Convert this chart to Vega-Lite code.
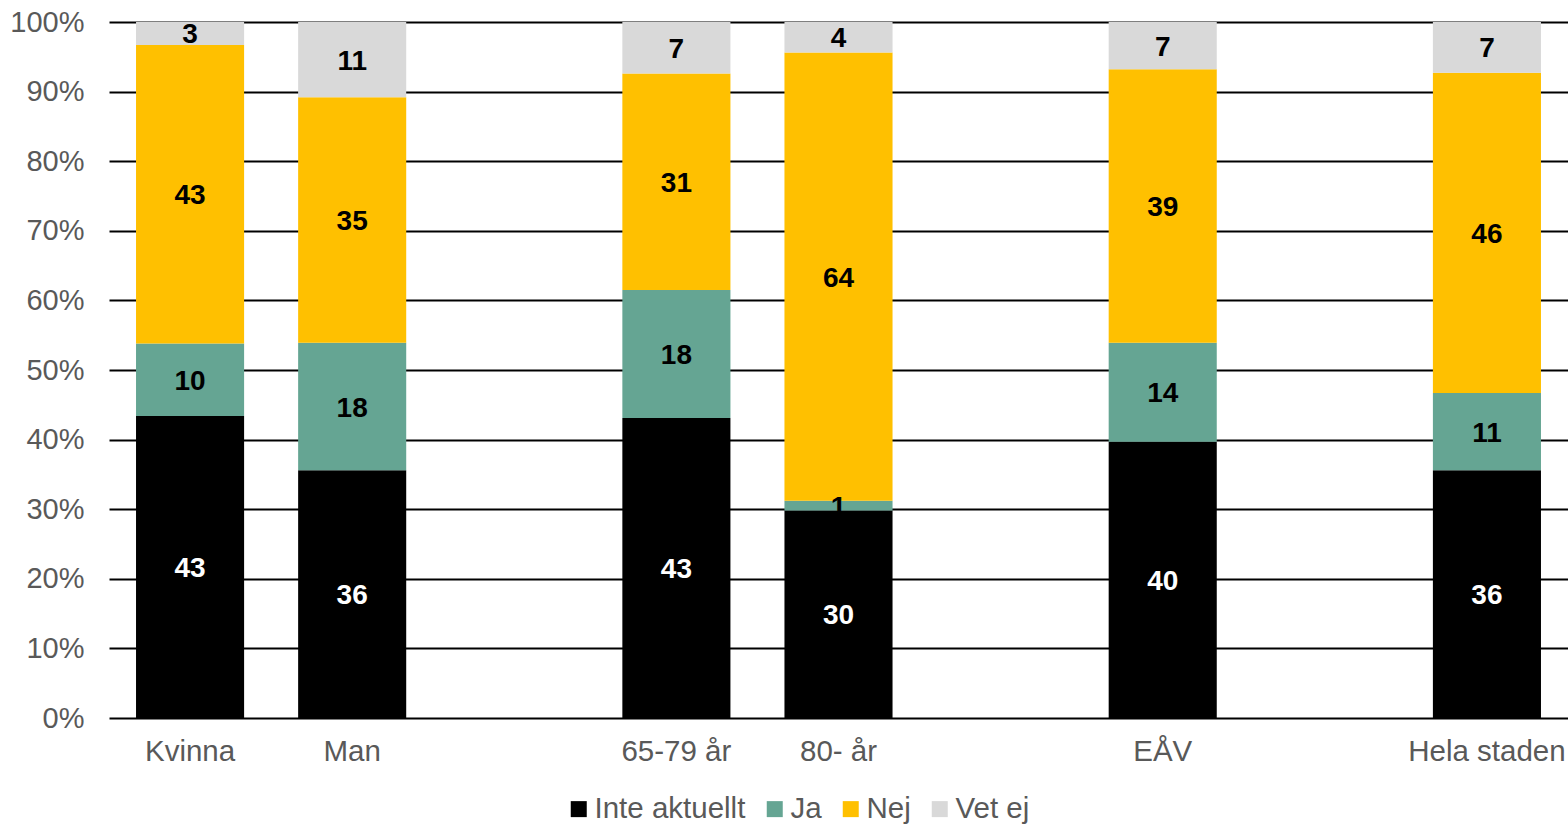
{
  "$schema": "https://vega.github.io/schema/vega-lite/v6.json",
  "autosize": {"type": "none"},
  "padding": {"left": 109, "top": 22, "right": 0, "bottom": 106},
  "width": 1459,
  "height": 696,
  "config": {
    "view": {"stroke": null},
    "font": "Liberation Sans"
  },
  "data": {
    "values": [
      {"cat": "Kvinna", "answer": "Inte aktuellt", "v": 43.4},
      {"cat": "Kvinna", "answer": "Ja", "v": 10.4},
      {"cat": "Kvinna", "answer": "Nej", "v": 42.9},
      {"cat": "Kvinna", "answer": "Vet ej", "v": 3.3},
      {"cat": "Man", "answer": "Inte aktuellt", "v": 35.6},
      {"cat": "Man", "answer": "Ja", "v": 18.3},
      {"cat": "Man", "answer": "Nej", "v": 35.3},
      {"cat": "Man", "answer": "Vet ej", "v": 10.8},
      {"cat": "65-79 år", "answer": "Inte aktuellt", "v": 43.1},
      {"cat": "65-79 år", "answer": "Ja", "v": 18.4},
      {"cat": "65-79 år", "answer": "Nej", "v": 31.1},
      {"cat": "65-79 år", "answer": "Vet ej", "v": 7.4},
      {"cat": "80- år", "answer": "Inte aktuellt", "v": 29.8},
      {"cat": "80- år", "answer": "Ja", "v": 1.4},
      {"cat": "80- år", "answer": "Nej", "v": 64.4},
      {"cat": "80- år", "answer": "Vet ej", "v": 4.4},
      {"cat": "EÅV", "answer": "Inte aktuellt", "v": 39.7},
      {"cat": "EÅV", "answer": "Ja", "v": 14.2},
      {"cat": "EÅV", "answer": "Nej", "v": 39.3},
      {"cat": "EÅV", "answer": "Vet ej", "v": 6.8},
      {"cat": "Hela staden", "answer": "Inte aktuellt", "v": 35.6},
      {"cat": "Hela staden", "answer": "Ja", "v": 11.1},
      {"cat": "Hela staden", "answer": "Nej", "v": 46.0},
      {"cat": "Hela staden", "answer": "Vet ej", "v": 7.3}
    ]
  },
  "transform": [
    {"stack": "v", "groupby": ["cat"], "sort": [{"field": "answer", "order": "ascending"}], "offset": "normalize", "as": ["y0", "y1"]}
  ],
  "encoding": {
    "x": {
      "field": "cat",
      "type": "nominal",
      "sort": null,
      "scale": {
        "domain": ["Kvinna", "Man", " ", "65-79 år", "80- år", "  ", "EÅV", "   ", "Hela staden"],
        "paddingInner": 0.3333,
        "paddingOuter": 0.1667
      },
      "axis": {
        "title": null,
        "labelAngle": 0,
        "ticks": false,
        "domain": false,
        "labelFontSize": 29.5,
        "labelColor": "#595959",
        "labelPadding": 19,
        "labelFont": "Liberation Sans"
      }
    }
  },
  "layer": [
    {
      "mark": {"type": "bar"},
      "encoding": {
        "y": {
          "field": "y0",
          "type": "quantitative",
          "scale": {"domain": [0, 1], "nice": false},
          "axis": {
            "title": null,
            "values": [0, 0.1, 0.2, 0.3, 0.4, 0.5, 0.6, 0.7, 0.8, 0.9, 1],
            "format": ".0%",
            "ticks": false,
            "domain": false,
            "grid": true,
            "gridColor": "#000000",
            "gridWidth": 1.8,
            "gridOpacity": 1,
            "labelFontSize": 29,
            "labelColor": "#595959",
            "labelPadding": 25,
            "labelFont": "Liberation Sans"
          }
        },
        "y2": {"field": "y1"},
        "color": {
          "field": "answer",
          "type": "nominal",
          "scale": {
            "domain": ["Inte aktuellt", "Ja", "Nej", "Vet ej"],
            "range": ["#000000", "#65A593", "#FFC000", "#D9D9D9"]
          },
          "legend": {
            "title": null,
            "orient": "none",
            "direction": "horizontal",
            "legendX": 455,
            "legendY": 772,
            "padding": 0,
            "symbolType": "square",
            "symbolSize": 256,
            "symbolStrokeWidth": 0,
            "symbolOpacity": 1,
            "labelFontSize": 29.5,
            "labelColor": "#595959",
            "labelFont": "Liberation Sans",
            "labelOffset": 1,
            "columnPadding": 14,
            "labelLimit": 400
          }
        }
      }
    },
    {
      "transform": [
        {"fold": ["y0", "y1"], "as": ["k", "yy"]},
        {"aggregate": [{"op": "mean", "field": "yy", "as": "mid"}], "groupby": ["cat", "answer", "v"]}
      ],
      "mark": {"type": "text", "fontSize": 28, "fontWeight": "bold", "font": "Liberation Sans", "baseline": "middle", "align": "center", "dy": 2},
      "encoding": {
        "y": {"field": "mid", "type": "quantitative"},
        "text": {"field": "v", "type": "quantitative", "format": ".0f"},
        "color": {
          "condition": {"test": "datum.answer === 'Inte aktuellt'", "value": "#FFFFFF"},
          "value": "#000000"
        }
      }
    }
  ]
}
